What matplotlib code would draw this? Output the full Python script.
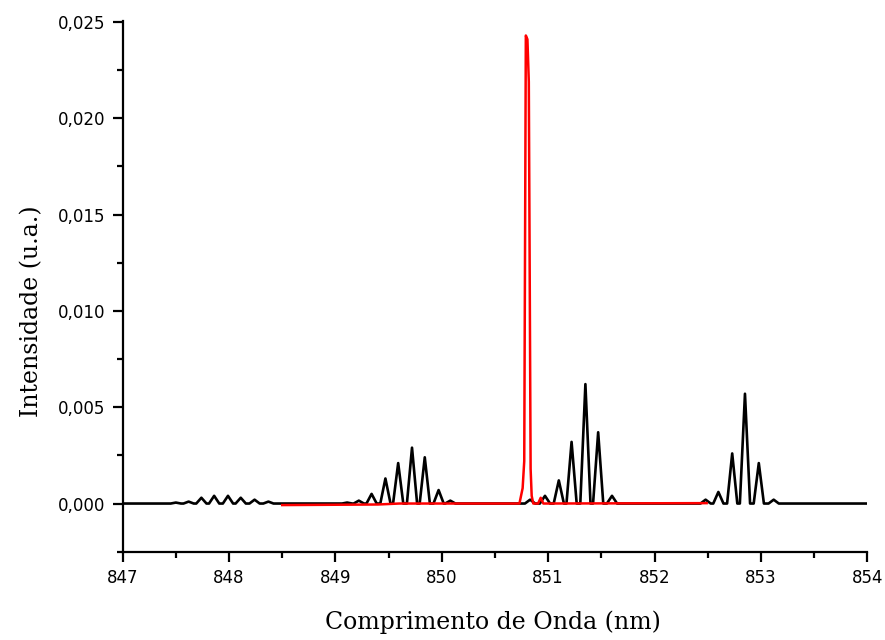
import matplotlib
matplotlib.use("Agg")
import matplotlib.pyplot as plt
from matplotlib.ticker import FuncFormatter, MultipleLocator

# black spectrum: peak centres (nm) and heights (u.a.)
black_peak_x = [847.50, 847.62, 847.74, 847.86, 847.99, 848.11, 848.24, 848.37,
                849.11, 849.22, 849.34, 849.47, 849.59, 849.72, 849.84, 849.97, 850.08,
                850.83, 850.97, 851.10, 851.22, 851.35, 851.47, 851.60,
                852.48, 852.60, 852.73, 852.85, 852.98, 853.12]
black_peak_y = [0.00005, 0.0001, 0.0003, 0.0004, 0.0004, 0.0003, 0.0002, 0.0001,
                0.00005, 0.00015, 0.0005, 0.0013, 0.0021, 0.0029, 0.0024, 0.0007, 0.00015,
                0.0002, 0.0004, 0.0012, 0.0032, 0.0062, 0.0037, 0.0004,
                0.0002, 0.0006, 0.0026, 0.0057, 0.0021, 0.0002]
black_range = [847.0, 854.0]

# red spectrum, traced point by point
red_x = [848.50, 849.40, 849.60, 850.73, 850.760, 850.775, 850.790, 850.805,
         850.818, 850.835, 850.845, 850.860, 850.905, 850.930, 850.955, 852.49]
red_y = [-0.00008, -0.00005, 0.0, 0.0, 0.0008, 0.0022, 0.0243, 0.0241,
         0.0219, 0.0018, 0.0004, 0.0, 0.0, 0.0003, 0.0, 0.00002]

x_ticks = [847, 848, 849, 850, 851, 852, 853, 854]
y_ticks = [0.000, 0.005, 0.010, 0.015, 0.020, 0.025]

HALF_W = 0.048  # half base width of the black peaks, nm


def peak_polyline(centres, heights, x0, x1):
    xs, ys = [x0], [0.0]
    for c, h in zip(centres, heights):
        xs += [c - HALF_W, c, c + HALF_W]
        ys += [0.0, h, 0.0]
    xs.append(x1)
    ys.append(0.0)
    return xs, ys


fig = plt.figure(figsize=(8.85, 6.4), dpi=100)
ax = fig.add_axes([0.1386, 0.138, 0.8414, 0.8297])

bx, by = peak_polyline(black_peak_x, black_peak_y, *black_range)
ax.plot(bx, by, color="black", lw=1.9, zorder=2)
ax.plot(red_x, red_y, color="#ff0000", lw=1.8, zorder=3)

ax.set_xlim(847, 854)
ax.set_ylim(-0.0025, 0.02507)
ax.set_xticks(x_ticks)
ax.set_yticks(y_ticks)
ax.xaxis.set_minor_locator(MultipleLocator(0.5))
ax.yaxis.set_minor_locator(MultipleLocator(0.0025))
ax.yaxis.set_major_formatter(FuncFormatter(lambda v, _: f"{v:.3f}".replace(".", ",")))

for side in ("top", "right"):
    ax.spines[side].set_visible(False)
for side in ("left", "bottom"):
    ax.spines[side].set_linewidth(1.6)

ax.tick_params(which="major", direction="out", length=7.5, width=1.6,
               labelsize=12, pad=5)
ax.tick_params(which="minor", direction="out", length=4, width=1.6)

label_font = dict(family="DejaVu Serif", fontsize=17, fontweight="light")
ax.set_xlabel("Comprimento de Onda (nm)", **label_font)
ax.set_ylabel("Intensidade (u.a.)", **label_font)
ax.xaxis.set_label_coords(0.497, -0.11)
ax.yaxis.set_label_coords(-0.107, 0.453)

fig.savefig("out.png", dpi=100)
